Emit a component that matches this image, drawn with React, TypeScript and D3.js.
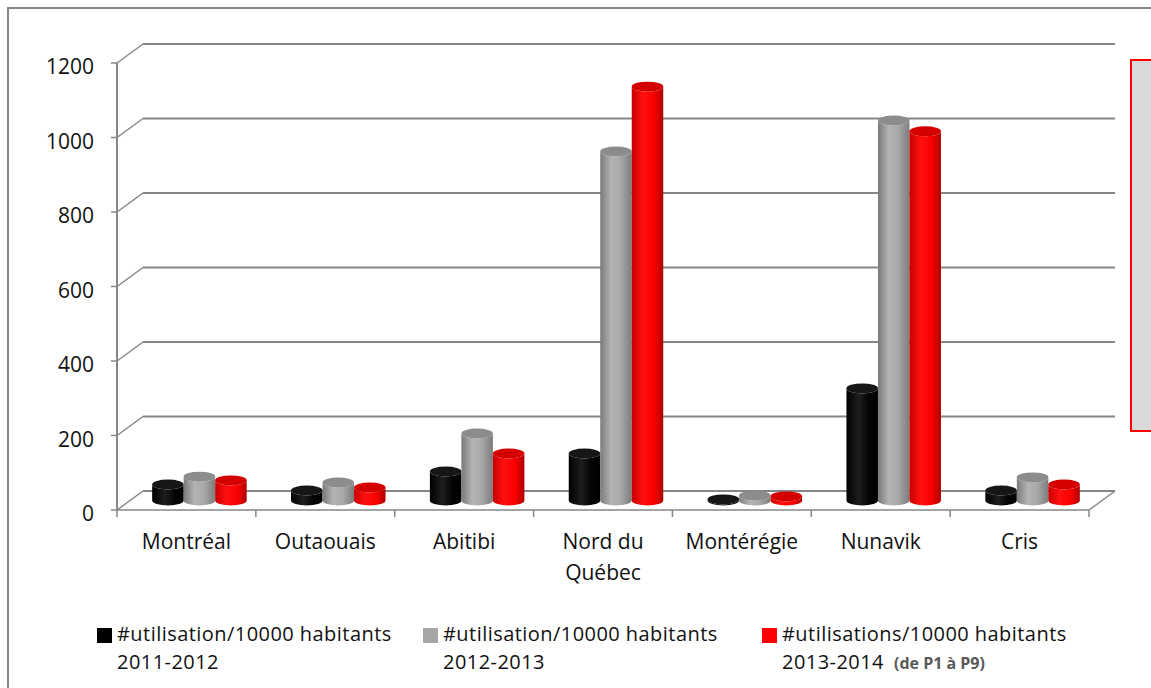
import React from "react";
import * as d3 from "d3";

const categories = ["Montréal", "Outaouais", "Abitibi", "Nord du Québec", "Montérégie", "Nunavik", "Cris"];
const series2011 = [43, 27, 78, 126, 3, 301, 27];
const series2012 = [64, 48, 180, 937, 13, 1020, 62];
const series2013 = [54, 35, 126, 1111, 11, 991, 43];
const yTicks = [0, 200, 400, 600, 800, 1000, 1200];
const seriesNames = [
  "#utilisation/10000 habitants|2011-2012",
  "#utilisation/10000 habitants|2012-2013",
  "#utilisations/10000 habitants|2013-2014",
];
const catLines: Record<string, string[]> = { "Nord du Québec": ["Nord du", "Québec"] };

const FONT = "'Open Sans', sans-serif";
const GRID = "#868686";

export default function App() {
  const W = 1151, H = 688;
  const x = d3.scaleBand<string>().domain(categories).range([117, 1089]).paddingInner(0).paddingOuter(0);
  const y = d3.scaleLinear().domain([0, 1200]).range([510, 63]);
  const dx = 26, dy = -19;
  const all = [series2011, series2012, series2013];
  const groupW = 94.5;
  const inner = d3.scaleBand<number>().domain([0, 1, 2]).range([-groupW / 2, groupW / 2]).padding(0);
  const barW = inner.bandwidth();
  const ry = 5;
  const ids = ["gBlack", "gGray", "gRed"];
  const tops = ["#161616", "#8c8c8c", "#d40000"];
  const legendX = [97, 423, 762];
  const legendColors = ["#000000", "#a6a6a6", "#ff0000"];

  const bars: JSX.Element[] = [];
  categories.forEach((c, i) => {
    all.forEach((s, j) => {
      const center = (x(c) as number) + x.bandwidth() / 2 + dx / 2;
      const x0 = center + (inner(j) as number);
      const x1 = x0 + barW;
      const cx = (x0 + x1) / 2;
      const yb = y(0) + dy / 2;
      const yt = y(s[i]) + dy / 2;
      const rx = barW / 2;
      const body = `M${x0},${yt} L${x0},${yb} A${rx},${ry} 0 0 0 ${x1},${yb} L${x1},${yt} A${rx},${ry} 0 0 1 ${x0},${yt} Z`;
      bars.push(
        <g key={`${i}-${j}`}>
          <path d={body} fill={`url(#${ids[j]})`} />
          <ellipse cx={cx} cy={yt} rx={rx} ry={ry} fill={tops[j]} />
        </g>
      );
    });
  });

  return (
    <svg width={W} height={H} style={{ position: "absolute", left: 0, top: 0 }} fontFamily={FONT}>
      <defs>
        <linearGradient id="gBlack" x1="0" x2="1" y1="0" y2="0">
          <stop offset="0" stopColor="#000" />
          <stop offset="0.4" stopColor="#1e1e1e" />
          <stop offset="0.7" stopColor="#050505" />
          <stop offset="1" stopColor="#000" />
        </linearGradient>
        <linearGradient id="gGray" x1="0" x2="1" y1="0" y2="0">
          <stop offset="0" stopColor="#7a7a7a" />
          <stop offset="0.35" stopColor="#b4b4b4" />
          <stop offset="0.65" stopColor="#a8a8a8" />
          <stop offset="1" stopColor="#7c7c7c" />
        </linearGradient>
        <linearGradient id="gRed" x1="0" x2="1" y1="0" y2="0">
          <stop offset="0" stopColor="#c80000" />
          <stop offset="0.35" stopColor="#ff1010" />
          <stop offset="0.7" stopColor="#fa0000" />
          <stop offset="1" stopColor="#b00000" />
        </linearGradient>
      </defs>
      <rect x={0} y={0} width={W} height={H} fill="#fff" />
      <rect x={8} y={8} width={1170} height={700} fill="none" stroke={GRID} strokeWidth={2} />

      {yTicks.map((t) => (
        <g key={t}>
          <line x1={117 + dx} x2={1089 + dx} y1={y(t) + dy} y2={y(t) + dy} stroke={GRID} strokeWidth={2} />
          <line x1={117} x2={117 + dx} y1={y(t)} y2={y(t) + dy} stroke={GRID} strokeWidth={1.5} />
          <line x1={111} x2={117} y1={y(t)} y2={y(t)} stroke={GRID} strokeWidth={1.5} />
          <text x={94} y={y(t) + 11} textAnchor="end" fontSize={21} fill="#111">{t}</text>
        </g>
      ))}
      <line x1={117} x2={117} y1={y(1200)} y2={y(0)} stroke={GRID} strokeWidth={2} />
      <line x1={117} x2={1089} y1={y(0)} y2={y(0)} stroke={GRID} strokeWidth={1.5} />
      <line x1={1089} x2={1089 + dx} y1={y(0)} y2={y(0) + dy} stroke={GRID} strokeWidth={1.5} />
      {categories.map((c) => (
        <line key={c} x1={x(c) as number} x2={x(c) as number} y1={y(0)} y2={y(0) + 7} stroke={GRID} strokeWidth={1.5} />
      ))}
      <line x1={1089} x2={1089} y1={y(0)} y2={y(0) + 7} stroke={GRID} strokeWidth={1.5} />

      {bars}

      {categories.map((c) => {
        const lines = catLines[c] || [c];
        const cx = (x(c) as number) + x.bandwidth() / 2;
        return (
          <text key={c} x={cx} y={549} textAnchor="middle" fontSize={21} fill="#111">
            {lines.map((l, k) => (
              <tspan key={k} x={cx} dy={k === 0 ? 0 : 31}>{l}</tspan>
            ))}
          </text>
        );
      })}

      {seriesNames.map((n, k) => {
        const [l1, l2] = n.split("|");
        return (
          <g key={k}>
            <rect x={legendX[k]} y={628} width={15} height={15} fill={legendColors[k]} />
            <text x={legendX[k] + 20} y={641} fontSize={20} letterSpacing={0.45} fill="#111">{l1}</text>
            <text x={legendX[k] + 20} y={669} fontSize={20} letterSpacing={0.45} fill="#111">
              {l2}
              {k === 2 ? (
                <tspan dx={10} fontSize={16} letterSpacing={0} fontWeight="bold" fill="#595959">(de P1 à P9)</tspan>
              ) : null}
            </text>
          </g>
        );
      })}

      <rect x={1131} y={60} width={40} height={371} fill="#d9d9d9" stroke="#ff0000" strokeWidth={2} />
    </svg>
  );
}
